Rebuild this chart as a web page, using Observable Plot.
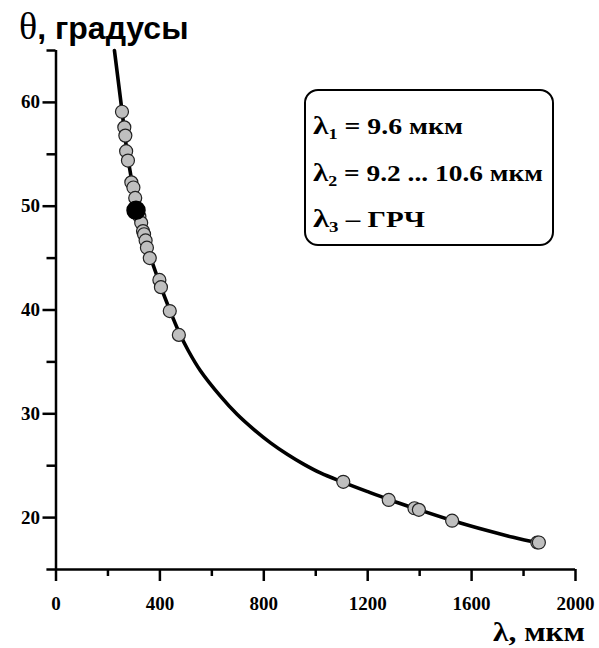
<!DOCTYPE html>
<html><head><meta charset="utf-8">
<script src="https://cdn.jsdelivr.net/npm/d3@7"></script>
<script src="https://cdn.jsdelivr.net/npm/@observablehq/plot@0.6"></script>
<style>
body{margin:0;background:#fff;}
#wrap{position:relative;width:599px;height:648px;overflow:hidden;}
#wrap > svg{position:absolute;left:0;top:0;}
</style></head><body><div id="wrap"></div><script>
// measured points (λ, мкм ; θ, градусы)
const lambdaPts = [254, 263, 267, 270, 277, 290, 298, 305, 321, 328, 335, 339, 345, 350, 361, 398, 404, 438, 473, 1106, 1281, 1380, 1397, 1525, 1853, 1859];
const thetaPts  = [59.1, 57.6, 56.8, 55.3, 54.4, 52.3, 51.8, 50.8, 49.0, 48.4, 47.6, 47.3, 46.7, 46.0, 45.0, 42.9, 42.2, 39.9, 37.6, 23.45, 21.7, 20.9, 20.75, 19.7, 17.6, 17.6];
// λ1 = 9.6 мкм point
const lambdaMain = [308];
const thetaMain  = [49.6];
// curve
const curveLambda = [225, 254, 277, 305, 350, 400, 438, 473, 510, 556, 633, 697, 761, 826, 890, 953, 1018, 1106, 1200, 1281, 1380, 1525, 1660, 1760, 1865];
const curveTheta  = [65.0, 59.2, 54.6, 50.8, 46.2, 42.5, 40.0, 37.9, 36.05, 34.15, 31.7, 29.95, 28.5, 27.2, 26.1, 25.15, 24.3, 23.4, 22.5, 21.75, 20.9, 19.72, 18.75, 18.1, 17.5];
const xMajorTicks = [0, 400, 800, 1200, 1600, 2000];
const xMinorTicks = [200, 600, 1000, 1400, 1800];
const yMajorTicks = [20, 30, 40, 50, 60];
const yMinorTicks = [25, 35, 45, 55, 65];
const titleTheta = "θ";
const titleRest = ", градусы";
const xLabel = "λ, мкм";
const legendSym = ["λ", "λ", "λ"];
const legendSub = ["1", "2", "3"];
const legendText = [" = 9.6 мкм", " = 9.2 ... 10.6 мкм", " – ГРЧ"];

const pts = lambdaPts.map((l, i) => ({l, t: thetaPts[i]}));
const main = lambdaMain.map((l, i) => ({l, t: thetaMain[i]}));
const curve = curveLambda.map((l, i) => ({l, t: curveTheta[i]}));

const serif = "'Liberation Serif', 'Times New Roman', serif";

const chart = Plot.plot({
  width: 599, height: 648,
  marginLeft: 55.5, marginRight: 24, marginTop: 50, marginBottom: 79,
  x: {domain: [0, 2000]},
  y: {domain: [15, 65]},
  style: {background: "#fff", color: "#000", overflow: "visible"},
  marks: [
    Plot.ruleY([15], {x1: -35, x2: 2000, strokeWidth: 2.5}),
    Plot.ruleX([0], {y1: 15, y2: 65, strokeWidth: 2.5}),
    Plot.axisX(xMajorTicks, {tickSize: 12, tickPadding: 15, strokeWidth: 2.5, label: null, tickFormat: "d"}),
    Plot.axisX(xMinorTicks, {tickSize: 7, strokeWidth: 2.5, label: null, tickFormat: () => ""}),
    Plot.axisY(yMajorTicks, {tickSize: 13, tickPadding: 3, strokeWidth: 2.5, label: null, tickFormat: "d"}),
    Plot.axisY(yMinorTicks, {tickSize: 9, strokeWidth: 2.5, label: null, tickFormat: () => ""}),
    Plot.line(curve, {x: "l", y: "t", curve: "catmull-rom", stroke: "#000", strokeWidth: 3.6}),
    Plot.dot(pts, {x: "l", y: "t", r: 6.5, fill: "#bfbfbf", stroke: "#222", strokeWidth: 1.2}),
    Plot.dot(main, {x: "l", y: "t", r: 9, fill: "#000", stroke: "#000"})
  ]
});
d3.select(chart).selectAll("text")
  .style("font-family", serif).style("font-weight", "bold").style("font-size", "19px");

const wrap = document.getElementById("wrap");
wrap.appendChild(chart);

// overlay: title, axis label, legend box
const ov = d3.select(wrap).append("svg").attr("width", 599).attr("height", 648)
  .style("position", "absolute").style("left", 0).style("top", 0).style("pointer-events", "none");

const title = ov.append("text").attr("x", 19).attr("y", 39);
title.append("tspan").attr("font-family", serif).attr("font-size", 38).text(titleTheta);
title.append("tspan").attr("font-family", "'Liberation Sans', Arial, sans-serif").attr("font-weight", "bold").attr("font-size", 32).text(titleRest);

ov.append("text").attr("x", 493).attr("y", 641)
  .attr("textLength", 92).attr("lengthAdjust", "spacingAndGlyphs")
  .attr("font-family", serif).attr("font-weight", "bold").attr("font-size", 28).text(xLabel);

ov.append("rect").attr("x", 305).attr("y", 90).attr("width", 248).attr("height", 155).attr("rx", 13)
  .attr("fill", "none").attr("stroke", "#000").attr("stroke-width", 2);

const baselines = [134, 181, 227];
const lineWidths = [150, 230, 112];
legendText.forEach((s, i) => {
  const t = ov.append("text").attr("x", 313).attr("y", baselines[i])
    .attr("textLength", lineWidths[i]).attr("lengthAdjust", "spacingAndGlyphs")
    .attr("font-family", serif).attr("font-weight", "bold").attr("font-size", 23);
  t.append("tspan").attr("font-size", 26).text(legendSym[i]);
  t.append("tspan").attr("font-size", 15).attr("dy", 5).text(legendSub[i]);
  t.append("tspan").attr("dy", -5).text(s);
});
</script></body></html>
